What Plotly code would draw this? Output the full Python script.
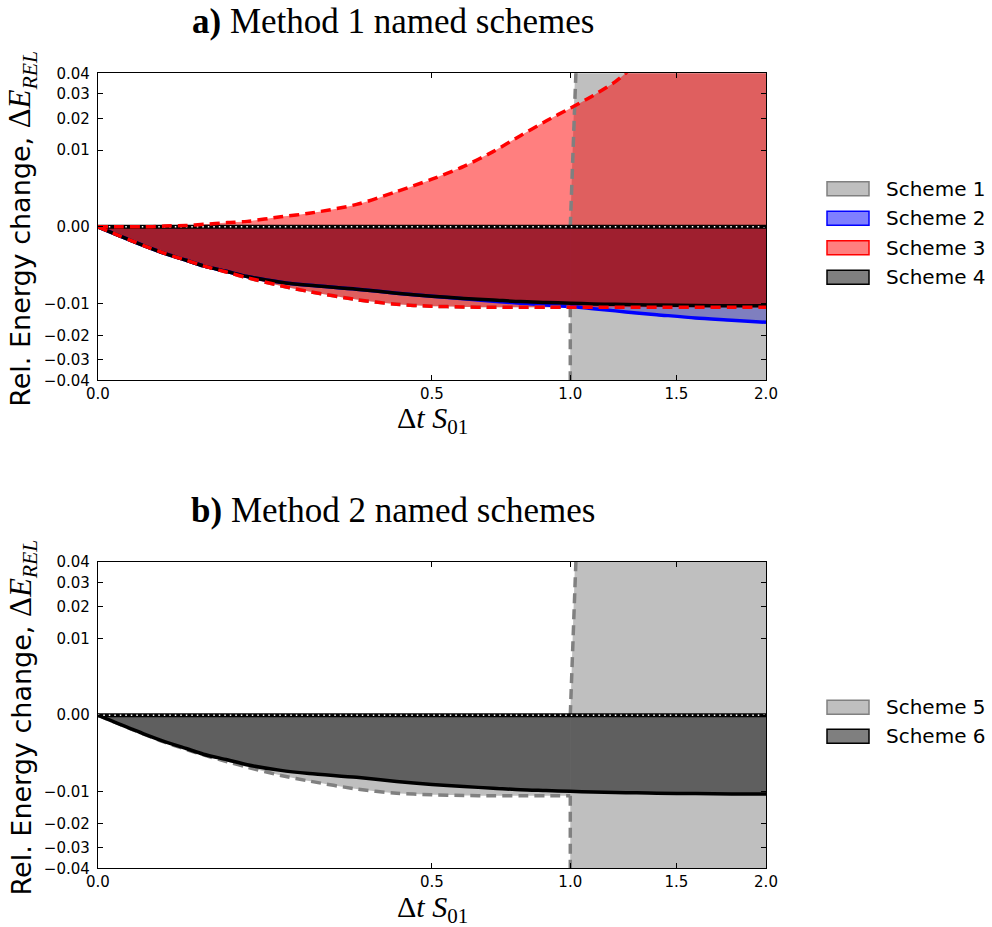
import numpy as np
import plotly.graph_objects as go

# ---------------------------------------------------------------------------
# Data: relative energy change vs. normalised time step
# ---------------------------------------------------------------------------
dt = [0, 0.002, 0.005, 0.01, 0.02, 0.035, 0.05, 0.075, 0.1, 0.15, 0.2, 0.3,
      0.4, 0.5, 0.6, 0.7, 0.8, 0.9, 1.0, 1.1, 1.2, 1.3, 1.4, 1.6, 1.8, 2.0]

# stable branch (dt <= 1) of the conditionally stable schemes
dt_stable = dt[:19]
scheme1 = [0, -0.00013, -0.00032, -0.00063, -0.0012, -0.0019, -0.0026, -0.0035,
           -0.0044, -0.0059, -0.0071, -0.0090, -0.0102, -0.0107, -0.0109,
           -0.0110, -0.0110, -0.0110, -0.0110]
scheme5 = [0, -0.00013, -0.00033, -0.00065, -0.00125, -0.0020, -0.0027, -0.0037,
           -0.0046, -0.0062, -0.0074, -0.0093, -0.0104, -0.0108, -0.0110,
           -0.0111, -0.0111, -0.0111, -0.0111]

scheme2 = [0, -0.00013, -0.00032, -0.00063, -0.0012, -0.0019, -0.0026, -0.0034,
           -0.0042, -0.0052, -0.0058, -0.0066, -0.0075, -0.0082, -0.0088,
           -0.0094, -0.0099, -0.0104, -0.0108, -0.0114, -0.0120, -0.0126,
           -0.0131, -0.0141, -0.0148, -0.0155]
scheme3_low = [0, -0.00013, -0.00032, -0.00063, -0.0012, -0.0019, -0.0026,
               -0.0035, -0.0044, -0.0059, -0.0071, -0.0090, -0.0102, -0.0107,
               -0.0109, -0.0110, -0.0110, -0.0110, -0.0110, -0.0110, -0.0110,
               -0.0110, -0.0110, -0.0110, -0.0110, -0.0110]
scheme3_high = [0, 0, 0, 0, 0.000001, 0.000003, 0.00001, 0.00003, 0.00005,
                0.00017, 0.00031, 0.00085, 0.0021, 0.00385, 0.0062, 0.0096,
                0.0141, 0.019, 0.0239, 0.0293, 0.0358, 0.0455, 0.0594, 0.088,
                0.125, 0.17]
scheme4 = [0, -0.00013, -0.00032, -0.00063, -0.0012, -0.0019, -0.0026, -0.0034,
           -0.0042, -0.0052, -0.0058, -0.0066, -0.0075, -0.0082, -0.0087,
           -0.0091, -0.0095, -0.0097, -0.0099, -0.0101, -0.0102, -0.0103,
           -0.0104, -0.0105, -0.0106, -0.0106]
scheme6 = scheme4

# blow-up of schemes 1 / 5 past the stability limit (energy leaves the scale)
blowup_dt = [1.0, 1.02, 1.06]
blowup_e = [0.0, 0.04, 0.25]
unstable_dt = [1.0, 2.0]
offscale = 0.25

xtick_vals = [0.0, 0.5, 1.0, 1.5, 2.0]
xtick_text = ["0.0", "0.5", "1.0", "1.5", "2.0"]
ytick_vals = [0.04, 0.03, 0.02, 0.01, 0.0, -0.01, -0.02, -0.03, -0.04]
ytick_text = ["0.04", "0.03", "0.02", "0.01", "0.00",
              "\u22120.01", "\u22120.02", "\u22120.03", "\u22120.04"]

legend_a = ["Scheme 1", "Scheme 2", "Scheme 3", "Scheme 4"]
legend_b = ["Scheme 5", "Scheme 6"]


# square-root axis scales (signed for the energy axis)
def sx(v):
    return np.sqrt(np.asarray(v, dtype=float))


def sy(v):
    v = np.asarray(v, dtype=float)
    return np.sign(v) * np.sqrt(np.abs(v))


GRAY_F = "rgba(128,128,128,0.5)"
BLUE_F = "rgba(0,0,255,0.5)"
RED_F = "rgba(255,0,0,0.5)"
BLACK_F = "rgba(0,0,0,0.5)"
DASH = "10px,6px"
LW = 3.5
SMOOTH = dict(shape="spline", smoothing=0.8)

W, H = 992, 927
fig = go.Figure()


def add(tr, row):
    tr.update(xaxis="x" if row == 1 else "x2", yaxis="y" if row == 1 else "y2",
              showlegend=False, hoverinfo="skip")
    fig.add_trace(tr)


def band(x, low, high, color, row):
    add(go.Scatter(x=sx(x), y=sy(low), mode="lines", line=dict(width=0, **SMOOTH)), row)
    add(go.Scatter(x=sx(x), y=sy(high), mode="lines", line=dict(width=0, **SMOOTH),
                   fill="tonexty", fillcolor=color), row)


def curve(x, y, color, row, dash=None):
    add(go.Scatter(x=sx(x), y=sy(y), mode="lines",
                   line=dict(color=color, width=LW, dash=dash, **SMOOTH)), row)


def unstable_fill(row):
    xs = [unstable_dt[0], unstable_dt[0]] + blowup_dt[1:] + [unstable_dt[1], unstable_dt[1]]
    ys = [-offscale, blowup_e[0]] + blowup_e[1:] + [offscale, -offscale]
    add(go.Scatter(x=sx(xs), y=sy(ys), mode="lines", line=dict(width=0),
                   fill="toself", fillcolor=GRAY_F), row)


def gray_dashed(stable, row):
    curve(dt_stable, stable, "gray", row, DASH)
    add(go.Scatter(x=sx([dt_stable[-1], dt_stable[-1]]), y=sy([stable[-1], -offscale]),
                   mode="lines", line=dict(color="gray", width=LW, dash=DASH)), row)
    add(go.Scatter(x=sx(blowup_dt), y=sy(blowup_e), mode="lines",
                   line=dict(color="gray", width=LW, dash=DASH)), row)


def zero_line(row):
    add(go.Scatter(x=sx([dt[0], dt[-1]]), y=[0, 0], mode="lines",
                   line=dict(color="black", width=4)), row)
    add(go.Scatter(x=sx([dt[0], dt[-1]]), y=[0, 0], mode="lines",
                   line=dict(color="white", width=1.5, dash="1.5px,4px")), row)


zeros = [0.0] * len(dt)
zeros_s = [0.0] * len(dt_stable)

# ---- panel a ----
band(dt, zeros, scheme2, BLUE_F, 1)
band(dt_stable, zeros_s, scheme1, GRAY_F, 1)
unstable_fill(1)
band(dt, zeros, scheme4, BLACK_F, 1)
band(dt, scheme3_low, scheme3_high, RED_F, 1)
curve(dt, scheme2, "blue", 1)
gray_dashed(scheme1, 1)
curve(dt, scheme4, "black", 1)
zero_line(1)
curve(dt, scheme3_low, "red", 1, DASH)
curve(dt, scheme3_high, "red", 1, DASH)

# ---- panel b ----
band(dt_stable, zeros_s, scheme5, GRAY_F, 2)
unstable_fill(2)
band(dt, zeros, scheme6, BLACK_F, 2)
gray_dashed(scheme5, 2)
curve(dt, scheme6, "black", 2)
zero_line(2)

# ---- axes ----
x_dom = [97.8 / W, 766 / W]
ya_dom = [1 - 380.3 / H, 1 - 73.3 / H]
yb_dom = [1 - 868.3 / H, 1 - 562 / H]
tickfont = dict(family="DejaVu Sans", size=15, color="black")
xax = dict(range=[0, float(sx(2.0))], tickmode="array", tickvals=sx(xtick_vals),
           ticktext=xtick_text, ticks="inside", ticklen=5, tickwidth=1,
           tickcolor="black", showline=True, linecolor="black", linewidth=1,
           mirror="ticks", showgrid=False, zeroline=False, tickfont=tickfont,
           domain=x_dom, fixedrange=True, automargin=False)
yax = dict(range=[-0.2, 0.2], tickmode="array", tickvals=sy(ytick_vals),
           ticktext=ytick_text, ticks="inside", ticklen=5, tickwidth=1,
           tickcolor="black", showline=True, linecolor="black", linewidth=1,
           mirror="ticks", showgrid=False, zeroline=False, tickfont=tickfont,
           ticklabelstandoff=4, fixedrange=True, automargin=False)

fig.update_layout(
    width=W, height=H, margin=dict(l=0, r=0, t=0, b=0, autoexpand=False),
    paper_bgcolor="white", plot_bgcolor="white", showlegend=False,
    xaxis=dict(xax, anchor="y"),
    yaxis=dict(yax, domain=ya_dom, anchor="x"),
    xaxis2=dict(xax, anchor="y2"),
    yaxis2=dict(yax, domain=yb_dom, anchor="x2"),
)

# ---- titles and axis labels ----
serif = "Liberation Serif"
ann = []
for top, title in [(73.3, "<b>a)</b> Method 1 named schemes"),
                   (562, "<b>b)</b> Method 2 named schemes")]:
    bottom = top + 307
    ann.append(dict(x=393 / W, y=1 - (top - 52) / H, xref="paper", yref="paper",
                    text=title, showarrow=False, xanchor="center", yanchor="middle",
                    font=dict(family=serif, size=35, color="black")))
    ann.append(dict(x=432 / W, y=1 - (bottom + 40) / H, xref="paper", yref="paper",
                    text="\u0394<i>t</i> <i>S</i><sub>01</sub>", showarrow=False,
                    xanchor="center", yanchor="middle",
                    font=dict(family=serif, size=30, color="black")))
    ann.append(dict(x=22 / W, y=1 - ((top + bottom) / 2 + 2) / H, xref="paper", yref="paper",
                    text="Rel. Energy change, <span style='font-family:Liberation Serif;font-size:31px'>"
                         "\u0394<i>E</i><sub><i>REL</i></sub></span>",
                    showarrow=False, textangle=-90, xanchor="center", yanchor="middle",
                    font=dict(family="DejaVu Sans", size=27, color="black")))

# ---- legends ----
shapes = []
legend_rows = [(legend_a, [GRAY_F, BLUE_F, RED_F, BLACK_F], ["gray", "blue", "red", "black"],
                [188.8, 218.3, 247.7, 277.3]),
               (legend_b, [GRAY_F, BLACK_F], ["gray", "black"], [707.2, 736.3])]
for labels, fills, edges, ys in legend_rows:
    for lab, fc, ec, yc in zip(labels, fills, edges, ys):
        shapes.append(dict(type="rect", xref="paper", yref="paper",
                           x0=827 / W, x1=869 / W, y0=1 - (yc + 7) / H, y1=1 - (yc - 7) / H,
                           fillcolor=fc, line=dict(color=ec, width=1.5)))
        ann.append(dict(x=884 / W, y=1 - yc / H, xref="paper", yref="paper", text=lab,
                        showarrow=False, xanchor="left", yanchor="middle",
                        font=dict(family="DejaVu Sans", size=20, color="black")))

fig.update_layout(annotations=ann, shapes=shapes)
fig.write_html("out.html")
